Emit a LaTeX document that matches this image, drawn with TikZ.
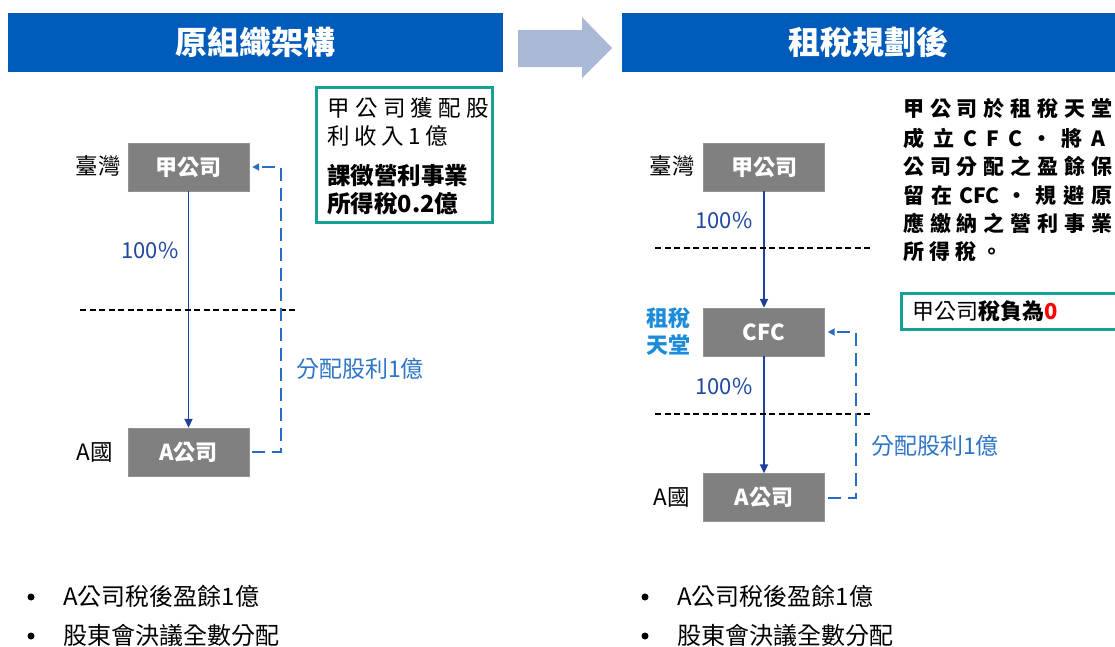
\documentclass[tikz,border=0pt]{standalone}
\usepackage{fontspec}
\setmainfont{Noto Sans CJK TC}
\usetikzlibrary{arrows.meta}
\definecolor{hdr}{RGB}{0,91,187}
\definecolor{bigarr}{RGB}{169,185,214}
\definecolor{boxgrey}{RGB}{128,128,128}
\definecolor{darkblue}{RGB}{31,64,153}
\definecolor{pctblue}{RGB}{31,72,160}
\definecolor{dashblue}{RGB}{38,110,196}
\definecolor{lblblue}{RGB}{46,117,200}
\definecolor{havenblue}{RGB}{28,140,218}
\definecolor{tealc}{RGB}{22,160,150}
\newcommand{\spreadline}[2]{\makebox[#1][s]{#2}}
\begin{document}
\begin{tikzpicture}[x=1pt,y=-1pt,
  hdrbar/.style={fill=hdr, text=white, font=\fontsize{32}{36}\selectfont\bfseries, minimum height=59pt, inner sep=0pt},
  cbox/.style={fill=boxgrey, draw=boxgrey!85!white, text=white, font=\fontsize{22}{25}\selectfont\bfseries, minimum width=121pt, minimum height=48pt, inner sep=0pt},
  region/.style={font=\fontsize{22.5}{25}\selectfont, text=black, inner sep=0pt},
  pct/.style={font=\fontsize{22}{25}\selectfont, text=pctblue, inner sep=0pt},
  divlbl/.style={font=\fontsize{23}{26}\selectfont, text=lblblue, inner sep=0pt},
  own/.style={draw=darkblue, line width=1.8pt, -{Triangle[length=9pt,width=8pt]}},
  divflow/.style={draw=dashblue, line width=2pt, dash pattern=on 13pt off 7pt, -{Triangle[length=7pt,width=7pt]}},
  border/.style={draw=black, line width=1.8pt, dash pattern=on 6pt off 3.5pt},
  tealbox/.style={draw=tealc, line width=3pt},
  txt/.style={inner sep=0pt, anchor=west},
  dot/.style={circle, fill=black, inner sep=0pt, minimum size=7pt},
  bul/.style={font=\fontsize{24}{27}\selectfont, inner sep=0pt, anchor=west}
]
\useasboundingbox (0,0) rectangle (1115,646);
\fill[white] (0,0) rectangle (1115,646);

% headers
\node[hdrbar, minimum width=495pt] (h1) at (255.5,42.5) {原組織架構};
\node[hdrbar, minimum width=493pt] (h2) at (868.5,42.5) {租稅規劃後};
\fill[bigarr] (518,30) -- (582,30) -- (582,17) -- (612,48) -- (582,78) -- (582,67) -- (518,67) -- cycle;

% ---------- left ----------
\node[cbox] (ja) at (188.5,167) {甲公司};
\node[cbox] (aa) at (188.5,452) {A公司};
\node[region] (tw1) at (98,166) {臺灣};
\node[region] (ac1) at (95,452) {A國};
\draw[own] (ja) -- (aa);
\node[pct] (p1) at (150,250) {100\%};
\coordinate (b1a) at (80,310);
\coordinate (b1b) at (297,310);
\draw[border] (b1a) -- (b1b);
\draw[divflow] ([xshift=3pt]aa.east) -| (281,175) |- ([xshift=3pt]ja.east);
\node[divlbl] (d1) at (360,369) {分配股利1億};

\node[tealbox, minimum width=176pt, minimum height=135pt, inner sep=0pt] (tb1) at (404,154.5) {};
\node[txt, font=\fontsize{22.5}{25}\selectfont] (tb1a) at (327,108) {\spreadline{162pt}{甲\hfill 公\hfill 司\hfill 獲\hfill 配\hfill 股}};
\node[txt, font=\fontsize{22.5}{25}\selectfont] (tb1b) at (327,136) {\spreadline{121pt}{利\hfill 收\hfill 入\hfill 1\hfill 億}};
\node[txt, font=\fontsize{23.5}{26}\selectfont\bfseries] (tb1c) at (327,176) {課徵營利事業};
\node[txt, font=\fontsize{23.5}{26}\selectfont\bfseries] (tb1d) at (327,204) {所得稅0.2億};

\node[dot] (bl1) at (31,597) {};
\node[bul] (bl1t) at (63,596) {A公司稅後盈餘1億};
\node[dot] (bl2) at (31,636) {};
\node[bul] (bl2t) at (63,635) {股東會決議全數分配};

% ---------- right ----------
\node[cbox] (jb) at (764,167) {甲公司};
\node[cbox] (cfc) at (764,332) {CFC};
\node[cbox] (ab) at (764,497.5) {A公司};
\node[region] (tw2) at (672,166) {臺灣};
\node[region] (ac2) at (672,497) {A國};
\node[font=\fontsize{22}{27}\selectfont\bfseries, text=havenblue, align=center, inner sep=0pt] (hv) at (668,332) {租稅\\天堂};
\draw[own] (jb) -- (cfc);
\draw[own] (cfc) -- (ab);
\node[pct] (p2) at (724,220) {100\%};
\node[pct] (p3) at (724,386) {100\%};
\coordinate (b2a) at (655,248);
\coordinate (b2b) at (870,248);
\coordinate (b3a) at (655,414);
\coordinate (b3b) at (870,414);
\draw[border] (b2a) -- (b2b);
\draw[border] (b3a) -- (b3b);
\draw[divflow] ([xshift=3pt]ab.east) -| (856,340) |- ([xshift=3pt]cfc.east);
\node[divlbl] (d2) at (935,446) {分配股利1億};

\begin{scope}[every node/.style={txt, font=\fontsize{21}{24}\selectfont\bfseries}]
\node (r1) at (903,109) {\spreadline{209pt}{甲\hfill 公\hfill 司\hfill 於\hfill 租\hfill 稅\hfill 天\hfill 堂}};
\node (r2) at (903,138) {\spreadline{202pt}{成\hfill 立\hfill C\hfill F\hfill C\hfill ·\hfill 將\hfill A}};
\node (r3) at (903,166) {\spreadline{209pt}{公\hfill 司\hfill 分\hfill 配\hfill 之\hfill 盈\hfill 餘\hfill 保}};
\node (r4) at (903,195) {\spreadline{209pt}{留\hfill 在\hfill CFC\hfill ·\hfill 規\hfill 避\hfill 原}};
\node (r5) at (903,223) {\spreadline{209pt}{應\hfill 繳\hfill 納\hfill 之\hfill 營\hfill 利\hfill 事\hfill 業}};
\node (r6) at (903,252) {\spreadline{99pt}{所\hfill 得\hfill 稅\hfill 。}};
\end{scope}

\node[tealbox, minimum width=240pt, minimum height=36pt, inner sep=0pt, anchor=north west] (tb2) at (900,292) {};
\node[txt, font=\fontsize{22}{25}\selectfont] (tb2t) at (912,311) {甲公司\textbf{稅負為}\textcolor{red}{\textbf{0}}};

\node[dot] (br1) at (645,597) {};
\node[bul] (br1t) at (677,596) {A公司稅後盈餘1億};
\node[dot] (br2) at (645,636) {};
\node[bul] (br2t) at (677,635) {股東會決議全數分配};
\end{tikzpicture}
\end{document}
